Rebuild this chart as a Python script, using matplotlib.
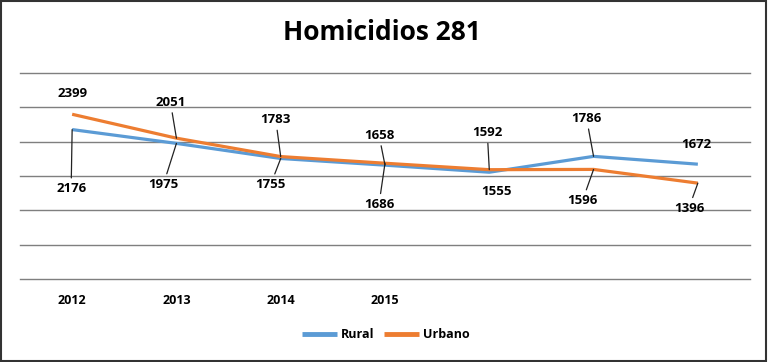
import matplotlib
matplotlib.use("Agg")
import matplotlib.pyplot as plt
from matplotlib.patches import Rectangle

plt.rcParams['font.family'] = ['Open Sans', 'DejaVu Sans']

categories = ['2012', '2013', '2014', '2015', '', '', '']
rural = [2176, 1975, 1755, 1658, 1555, 1786, 1672]
urbano = [2399, 2051, 1783, 1686, 1592, 1596, 1396]

# label offsets in pixels (dx, dy) and whether a leader line is drawn
rural_off = [(-1, -59, True), (-13, -41, True), (-10, -26, True), (-6, 30, True),
             (7, -19, False), (-7, 38, True), (-2, 20, False)]
urbano_off = [(0, 21, False), (-6, 36, True), (-5, 37, True), (-6, -41, True),
              (-2, 37, True), (-11, -31, True), (-9, -25, True)]

blue = '#5B9BD5'
orange = '#ED7D31'

fig = plt.figure(figsize=(7.68, 3.62), dpi=100)
ax = fig.add_axes([20/768, 1-279/362, 730/768, 206/362])

x = list(range(len(categories)))
ax.plot(x, rural, color=blue, lw=2.3, label='Rural', solid_capstyle='butt', zorder=3)
ax.plot(x, urbano, color=orange, lw=2.3, label='Urbano', solid_capstyle='butt', zorder=4)

ax.set_xlim(-0.5, 6.5)
ax.set_ylim(0, 3000)
ax.set_yticks(range(0, 3001, 500))
ax.yaxis.grid(True, color='#7f7f7f', lw=1)
for gl in ax.get_ygridlines():
    gl.set_clip_on(False)
ax.set_axisbelow(True)
ax.set_yticklabels([])
ax.tick_params(axis='y', length=0)
ax.set_xticks(x)
ax.set_xticklabels(categories, fontsize=9, fontweight='bold')
ax.tick_params(axis='x', length=0, pad=11)
for s in ax.spines.values():
    s.set_visible(False)

def label(vals, offs):
    for i, (v, (dx, dy, lead)) in enumerate(zip(vals, offs)):
        kw = {}
        if lead:
            kw['arrowprops'] = dict(arrowstyle='-', color='#222222', lw=0.9,
                                    shrinkA=1, shrinkB=0)
        ax.annotate(str(v), xy=(i, v), xytext=(dx, dy), textcoords='offset pixels',
                    ha='center', va='center', fontsize=9.5, fontweight='bold',
                    color='black', zorder=6, **kw)

label(rural, rural_off)
label(urbano, urbano_off)

fig.text(382/768, 1-33/362, 'Homicidios 281', ha='center', va='center',
         fontsize=19, fontweight='bold')

fig.legend(loc='center', bbox_to_anchor=(386/768, 1-335/362), ncol=2, frameon=False,
           prop={'size': 9, 'weight': 'bold'}, handlelength=2.8, handletextpad=0.3,
           columnspacing=0.8)
for l in fig.legends[0].get_lines():
    l.set_linewidth(3.5)

fig.add_artist(Rectangle((0.001, 0.002), 0.997, 0.995, transform=fig.transFigure,
                         fill=False, edgecolor='#333333', lw=1.5))

fig.savefig('out.png', dpi=100)
